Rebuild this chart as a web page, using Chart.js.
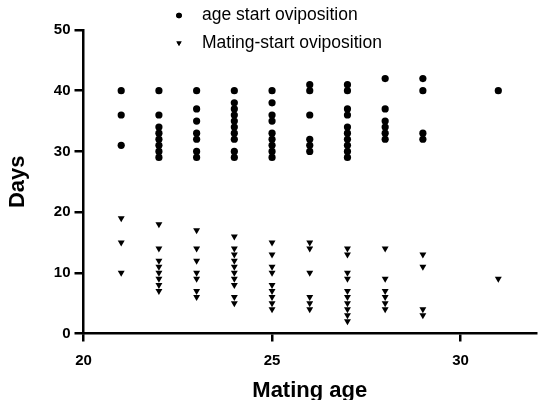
<!DOCTYPE html>
<html>
<head>
<meta charset="utf-8">
<script src="https://cdn.jsdelivr.net/npm/chart.js@4"></script>
<style>
  html, body { margin: 0; padding: 0; background: #fff; }
  #wrap { width: 540px; height: 400px; }
</style>
</head>
<body>
<div id="wrap"><canvas id="myChart" width="540" height="400"></canvas></div>
<script>
// mating age (x) and the days for each group
const ages = [21, 22, 23, 24, 25, 26, 27, 28, 29, 31];
const ageStart = [
  [40, 36, 31],
  [40, 36, 34, 33, 32, 31, 30, 29],
  [40, 37, 35, 33, 32, 30, 29],
  [40, 38, 37, 36, 35, 34, 33, 32, 30, 29],
  [40, 38, 36, 35, 33, 32, 31, 30, 29],
  [41, 40, 36, 32, 31, 30],
  [41, 40, 37, 36, 34, 33, 32, 31, 30, 29],
  [42, 37, 35, 34, 33, 32],
  [42, 40, 33, 32],
  [40]
];
const matingStart = [
  [19, 15, 10],
  [18, 14, 12, 11, 10, 9, 8, 7],
  [17, 14, 12, 10, 9, 7, 6],
  [16, 14, 13, 12, 11, 10, 9, 8, 6, 5],
  [15, 13, 11, 10, 8, 7, 6, 5, 4],
  [15, 14, 10, 6, 5, 4],
  [14, 13, 10, 9, 7, 6, 5, 4, 3, 2],
  [14, 9, 7, 6, 5, 4],
  [13, 11, 4, 3],
  [9]
];
const seriesNames = ["age start oviposition", "Mating-start oviposition"];
const xTicks = [20, 25, 30];
const yTicks = [0, 10, 20, 30, 40, 50];

function toPoints(groups) {
  return ages.flatMap((a, i) => groups[i].map(d => ({x: a, y: d})));
}

const font = "'Liberation Sans', Arial, sans-serif";

// legend stacked in two rows, like the prism export
const stackedLegend = {
  id: "stackedLegend",
  afterDraw(chart) {
    const ctx = chart.ctx;
    ctx.save();
    ctx.fillStyle = "#000";
    ctx.font = "17.5px " + font;
    ctx.textBaseline = "middle";
    ctx.textAlign = "left";
    const rows = [15.5, 43];
    Chart.helpers.drawPoint(ctx, {pointStyle: "circle", radius: 2.8, rotation: 0, borderWidth: 0}, 179, rows[0]);
    ctx.fill();
    Chart.helpers.drawPoint(ctx, {pointStyle: "triangle", radius: 3, rotation: 180, borderWidth: 0}, 179, rows[1]);
    ctx.fill();
    ctx.fillText(seriesNames[0], 202, rows[0]);
    ctx.fillText(seriesNames[1], 202, rows[1]);
    ctx.restore();
  }
};

var ctx = document.getElementById("myChart").getContext("2d");
var chart = new Chart(ctx, {
  type: "scatter",
  data: {
    datasets: [{
      label: seriesNames[0],
      data: toPoints(ageStart),
      pointStyle: "circle",
      pointRadius: 3.6,
      backgroundColor: "#000",
      borderColor: "#000",
      borderWidth: 0
    }, {
      label: seriesNames[1],
      data: toPoints(matingStart),
      pointStyle: "triangle",
      pointRotation: 180,
      pointRadius: 4,
      backgroundColor: "#000",
      borderColor: "#000",
      borderWidth: 0
    }]
  },
  options: {
    responsive: false,
    animation: false,
    layout: { padding: { top: 30, right: 2, left: 0, bottom: 0 } },
    plugins: {
      legend: { display: false },
      tooltip: { enabled: false }
    },
    scales: {
      x: {
        type: "linear",
        min: 20,
        max: 32,
        afterBuildTicks: s => { s.ticks = xTicks.map(v => ({value: v})); },
        afterFit: s => { s.height = 66.5; },
        border: { display: true, color: "#000", width: 2.5 },
        grid: { drawOnChartArea: false, color: "#000", lineWidth: 2.5, tickLength: 8 },
        ticks: { color: "#000", padding: 10, font: { family: font, size: 15, weight: "bold" } },
        title: { display: true, text: "Mating age", color: "#000", padding: { top: 0, bottom: -4 },
                 font: { family: font, size: 22, weight: "bold" } }
      },
      y: {
        min: 0,
        max: 50,
        afterBuildTicks: s => { s.ticks = yTicks.map(v => ({value: v})); },
        afterFit: s => { s.width = 83.5; },
        border: { display: true, color: "#000", width: 2.5 },
        grid: { drawOnChartArea: false, color: "#000", lineWidth: 2.5, tickLength: 9 },
        ticks: { color: "#000", padding: 4, font: { family: font, size: 15, weight: "bold" } },
        title: { display: true, text: "Days", color: "#000", padding: { top: 5, bottom: 0 },
                 font: { family: font, size: 22, weight: "bold" } }
      }
    }
  },
  plugins: [stackedLegend]
});
</script>
</body>
</html>
